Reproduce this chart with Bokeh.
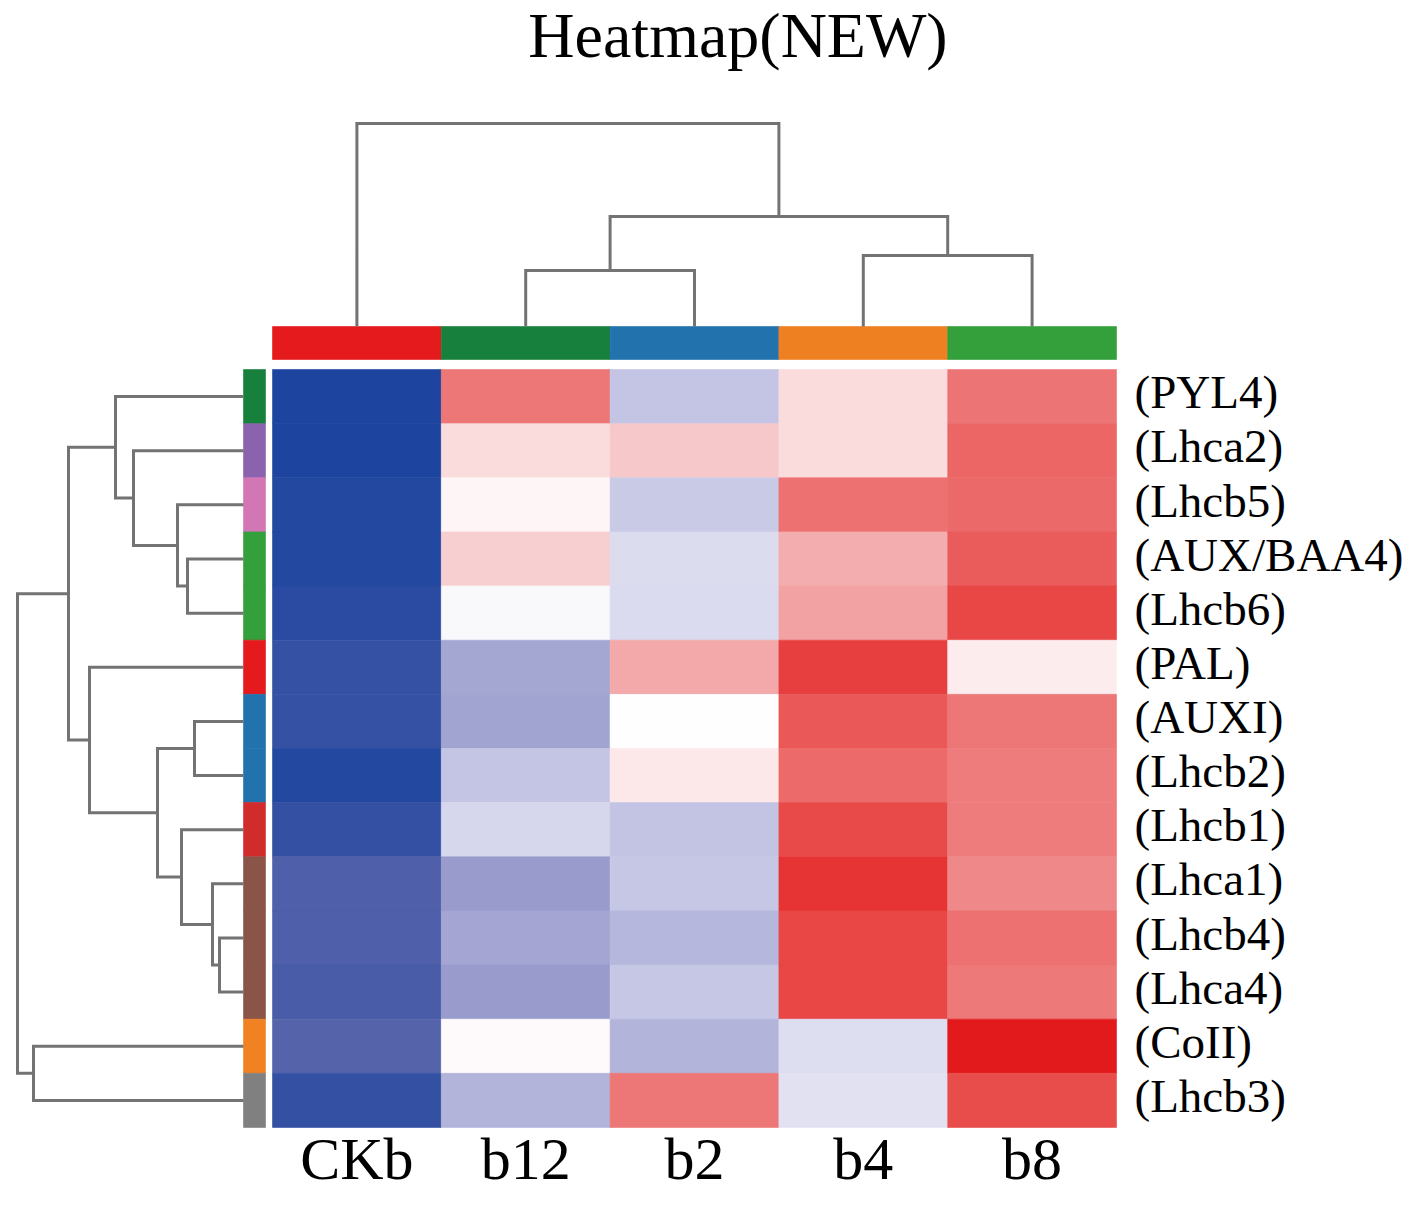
import numpy as np
from bokeh.plotting import figure
from bokeh.models import Range1d, LinearColorMapper, ColumnDataSource
from bokeh.transform import transform
from bokeh.core.properties import value
from bokeh.embed import file_html
from bokeh.resources import INLINE

# ---------------- data ----------------
title_text = "Heatmap(NEW)"
samples = ["CKb", "b12", "b2", "b4", "b8"]
genes = ["(PYL4)", "(Lhca2)", "(Lhcb5)", "(AUX/BAA4)", "(Lhcb6)", "(PAL)", "(AUXI)",
         "(Lhcb2)", "(Lhcb1)", "(Lhca1)", "(Lhcb4)", "(Lhca4)", "(CoII)", "(Lhcb3)"]

ckb = [-1.00, -1.00, -0.97, -0.97, -0.95, -0.91, -0.91, -0.97, -0.92, -0.82, -0.82, -0.84, -0.79, -0.92]
b12 = [0.53, 0.15, 0.04, 0.21, -0.03, -0.43, -0.46, -0.27, -0.18, -0.50, -0.44, -0.50, 0.02, -0.36]
b2 = [-0.27, 0.24, -0.25, -0.16, -0.17, 0.35, 0.00, 0.10, -0.28, -0.26, -0.35, -0.26, -0.36, 0.53]
b4 = [0.15, 0.15, 0.555, 0.33, 0.37, 0.81, 0.685, 0.59, 0.75, 0.86, 0.77, 0.77, -0.15, -0.14]
b8 = [0.54, 0.61, 0.60, 0.66, 0.77, 0.08, 0.53, 0.50, 0.50, 0.455, 0.56, 0.52, 1.00, 0.74]

sample_colors = ["#e41a1c", "#17803c", "#2272ad", "#ee8021", "#33a03b"]
gene_colors = ["#17803c", "#8b62ad", "#d376b4", "#33a03b", "#33a03b", "#e41a1c", "#2272ad",
               "#2272ad", "#d12c2c", "#8a5548", "#8a5548", "#8a5548", "#f08222", "#808080"]

# row dendrogram linkage (leaf indices in display order; new nodes numbered from 14)
row_link_a = [10, 9, 6, 3, 8, 2, 16, 1, 0, 5, 22, 12, 24]
row_link_b = [11, 14, 7, 4, 15, 17, 18, 19, 21, 20, 23, 13, 25]
row_link_h = [1.2, 1.55, 2.45, 2.8, 3.1, 3.3, 4.3, 5.5, 6.4, 7.7, 8.75, 10.5, 11.3]

# column dendrogram linkage (new nodes numbered from 5)
col_link_a = [1, 3, 5, 0]
col_link_b = [2, 4, 6, 7]
col_link_h = [2.8, 3.55, 5.5, 10.15]

# ---------------- layout (reference pixel geometry) ----------------
W, H = 1402, 1192
OX, OY = 0, 0
HX0, CW = 272.0, 168.8           # heatmap left, column width
HY0, RH = 369.0, 54.14           # heatmap top, row height
ROW_D0, ROW_DS = 243.0, 20.0     # row dendrogram leaf edge & px per unit
COL_D0, COL_DS = 326.0, 20.0     # col dendrogram leaf edge & px per unit

def xu(px):
    return (px - HX0) / CW

def yu(py):
    return (py - HY0) / RH

p = figure(width=W, height=H,
           x_range=Range1d(xu(OX), xu(OX + W)),
           y_range=Range1d(yu(OY + H), yu(OY)),
           output_backend="svg", toolbar_location=None, min_border=0)
p.axis.visible = False
p.grid.visible = False
p.outline_line_color = None
p.background_fill_color = "white"
p.border_fill_color = "white"

p.extra_x_ranges = {"rowd": Range1d((ROW_D0 - OX) / ROW_DS, (ROW_D0 - OX - W) / ROW_DS)}
p.extra_y_ranges = {"cold": Range1d((COL_D0 - OY - H) / COL_DS, (COL_D0 - OY) / COL_DS)}

# ---------------- colour map ----------------
stops_v = [-1, -0.8, -0.5, -0.25, 0, 0.25, 0.5, 0.75, 1]
stops_c = np.array([(29, 68, 158), (84, 98, 170), (153, 155, 204), (200, 201, 230),
                    (255, 255, 255), (247, 197, 200), (238, 125, 125), (232, 75, 74),
                    (227, 26, 28)], dtype=float)
grid = np.linspace(-1, 1, 256)
palette = []
for g in grid:
    rgb = [np.interp(g, stops_v, stops_c[:, k]) for k in range(3)]
    palette.append("#%02x%02x%02x" % tuple(int(round(c)) for c in rgb))
mapper = LinearColorMapper(palette=palette, low=-1, high=1)

# ---------------- heatmap ----------------
cols = [ckb, b12, b2, b4, b8]
L, R, T, B, V = [], [], [], [], []
for j, colvals in enumerate(cols):
    for i, v in enumerate(colvals):
        L.append(j); R.append(j + 1); T.append(i); B.append(i + 1); V.append(v)
hsrc = ColumnDataSource(dict(left=L, right=R, top=T, bottom=B, val=V))
p.quad(left="left", right="right", top="top", bottom="bottom", source=hsrc,
       fill_color=transform("val", mapper), line_color=transform("val", mapper), line_width=0.6)

# ---------------- colour bars ----------------
n_s, n_g = len(samples), len(genes)
p.quad(left=list(range(n_s)), right=[j + 1 for j in range(n_s)],
       top=[yu(326)] * n_s, bottom=[yu(359)] * n_s,
       fill_color=sample_colors, line_color=sample_colors, line_width=0.6)
p.quad(left=[xu(243)] * n_g, right=[xu(265)] * n_g,
       top=list(range(n_g)), bottom=[i + 1 for i in range(n_g)],
       fill_color=gene_colors, line_color=gene_colors, line_width=0.6)

# ---------------- dendrograms ----------------
def dendro(n, la, lb, lh):
    pos = [i + 0.5 for i in range(n)]
    hts = [0.0] * n
    P, D = [], []
    for a, b, h in zip(la, lb, lh):
        P.append([pos[a], pos[a], pos[b], pos[b]])
        D.append([hts[a], h, h, hts[b]])
        pos.append((pos[a] + pos[b]) / 2)
        hts.append(h)
    return P, D

rp, rd = dendro(n_g, row_link_a, row_link_b, row_link_h)
p.multi_line(xs=rd, ys=rp, x_range_name="rowd", line_color="#737373", line_width=3,
             line_join="miter")
cp, cd = dendro(n_s, col_link_a, col_link_b, col_link_h)
p.multi_line(xs=cp, ys=cd, y_range_name="cold", line_color="#737373", line_width=3,
             line_join="miter")

# ---------------- texts ----------------
serif = value("Liberation Serif")
p.text(x=[xu(737.5)], y=[yu(35)], text=[title_text], text_font=serif,
       text_font_size="64px", text_align="center", text_baseline="middle",
       text_color="black")
p.text(x=[xu(1134)] * n_g, y=[i + 0.5 - 0.08 for i in range(n_g)], text=genes, text_font=serif,
       text_font_size="47px", text_align="left", text_baseline="middle",
       text_color="black")
p.text(x=[j + 0.5 for j in range(n_s)], y=[yu(1158)] * n_s, text=samples, text_font=serif,
       text_font_size="60px", text_align="center", text_baseline="middle",
       text_color="black")

open("out.html", "w").write(file_html(p, INLINE))
